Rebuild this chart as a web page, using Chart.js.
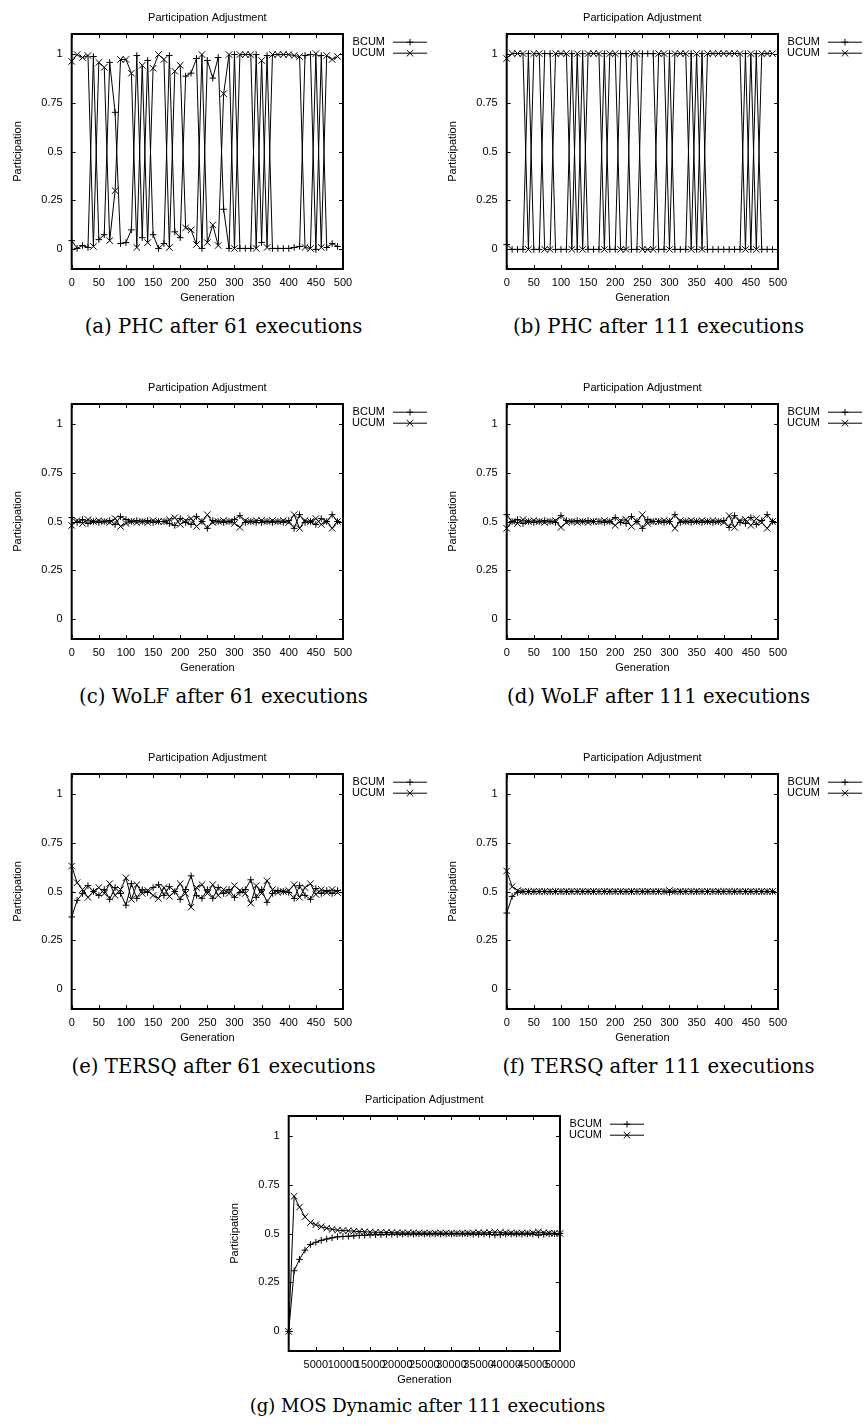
<!DOCTYPE html>
<html>
<head>
<meta charset="utf-8">
<script src="https://cdn.jsdelivr.net/npm/chart.js@4.4.1/dist/chart.umd.min.js"></script>
<style>
  body { margin: 0; background: #fff; }
  #page { position: relative; width: 867px; height: 1426px; overflow: hidden; background: #fff; }
  canvas { position: absolute; }
  .cap { position: absolute; width: 435px; text-align: center; font-family: "DejaVu Serif", serif;
         font-size: 19.7px; line-height: 24px; color: #000; white-space: nowrap; }
</style>
</head>
<body>
<div id="page">
  <canvas id="pa" width="435" height="310" style="left:0;top:0"></canvas>
  <canvas id="pb" width="435" height="310" style="left:435px;top:0"></canvas>
  <canvas id="pc" width="435" height="310" style="left:0;top:370px"></canvas>
  <canvas id="pd" width="435" height="310" style="left:435px;top:370px"></canvas>
  <canvas id="pe" width="435" height="310" style="left:0;top:740px"></canvas>
  <canvas id="pf" width="435" height="310" style="left:435px;top:740px"></canvas>
  <canvas id="pg" width="435" height="310" style="left:217px;top:1082px"></canvas>

  <div class="cap" style="left:6px;top:315px">(a) PHC after 61 executions</div>
  <div class="cap" style="left:441px;top:315px">(b) PHC after 111 executions</div>
  <div class="cap" style="left:6px;top:685px">(c) WoLF after 61 executions</div>
  <div class="cap" style="left:441px;top:685px">(d) WoLF after 111 executions</div>
  <div class="cap" style="left:6px;top:1055px">(e) TERSQ after 61 executions</div>
  <div class="cap" style="left:441px;top:1055px">(f) TERSQ after 111 executions</div>
  <div class="cap" style="left:210px;top:1394px;font-size:18px">(g) MOS Dynamic after 111 executions</div>
</div>

<script>
// x values (generation)
var gens = [0,10,20,30,40,50,60,70,80,90,100,110,120,130,140,150,160,170,180,190,
  200,210,220,230,240,250,260,270,280,290,300,310,320,330,340,350,360,370,380,390,
  400,410,420,430,440,450,460,470,480,490];
var genTicks = [0,50,100,150,200,250,300,350,400,450,500];

var mosGens = [0,1000,2000,3000,4000,5000,6000,7000,8000,9000,10000,11000,12000,13000,14000,
  15000,16000,17000,18000,19000,20000,21000,22000,23000,24000,25000,26000,27000,28000,29000,
  30000,31000,32000,33000,34000,35000,36000,37000,38000,39000,40000,41000,42000,43000,44000,
  45000,46000,47000,48000,49000,50000];
var mosTicks = [5000,10000,15000,20000,25000,30000,35000,40000,45000,50000];

var yTicks = [0, 0.25, 0.5, 0.75, 1];

// (a) PHC 61
var phc61B = [0.045,0.005,0.02,0.01,0.985,0.05,0.075,0.955,0.70,0.03,
  0.035,0.10,0.99,0.06,0.965,0.075,0.005,0.03,0.99,0.09,
  0.06,0.885,0.90,0.975,0.005,0.965,0.875,0.98,0.205,0.005,
  0.995,0.005,0.005,0.005,0.995,0.035,0.99,0.005,0.005,0.005,
  0.005,0.01,0.015,0.99,0.995,0.0,0.99,0.01,0.03,0.015];
var phc61U = [0.96,0.995,0.98,0.99,0.015,0.955,0.93,0.045,0.30,0.97,
  0.97,0.90,0.01,0.94,0.035,0.925,0.995,0.97,0.01,0.91,
  0.94,0.11,0.10,0.025,0.995,0.035,0.125,0.02,0.795,0.995,
  0.005,0.995,0.995,0.995,0.005,0.965,0.01,0.995,0.995,0.995,
  0.995,0.99,0.985,0.01,0.005,1.0,0.01,0.99,0.97,0.985];

// (b) PHC 111
var phc111B = [0.025,0,0,0,1,0,0,1,1,0,
  0,0,1,0,1,0,0,0,1,0,
  0,1,1,0,0,1,1,1,0,0,
  1,0,0,0,1,0,1,0,0,0,
  0,0,0,0,1,0,1,0,0,0];
var phc111U = [0.975,1,1,1,0,1,1,0,0,1,
  1,1,0,1,0,1,1,1,0,1,
  1,0,0,1,1,0,0,0,1,1,
  0,1,1,1,0,1,0,1,1,1,
  1,1,1,1,0,1,0,1,1,1];

// (c) WoLF 61
var wolf61B = [0.52,0.495,0.51,0.49,0.50,0.495,0.50,0.505,0.485,0.525,
  0.51,0.50,0.505,0.50,0.505,0.495,0.50,0.50,0.49,0.48,
  0.515,0.495,0.485,0.525,0.50,0.465,0.505,0.50,0.495,0.50,
  0.51,0.53,0.495,0.50,0.495,0.495,0.50,0.495,0.50,0.495,
  0.505,0.465,0.535,0.495,0.50,0.485,0.515,0.50,0.535,0.50];
var wolf61U = [0.48,0.505,0.49,0.51,0.50,0.505,0.50,0.495,0.515,0.475,
  0.49,0.50,0.495,0.50,0.495,0.505,0.50,0.50,0.51,0.52,
  0.485,0.505,0.515,0.475,0.50,0.535,0.495,0.50,0.505,0.50,
  0.49,0.47,0.505,0.50,0.505,0.505,0.50,0.505,0.50,0.505,
  0.495,0.535,0.465,0.505,0.50,0.515,0.485,0.50,0.465,0.50];

// (d) WoLF 111
var wolf111B = [0.535,0.50,0.51,0.49,0.50,0.495,0.50,0.505,0.50,0.495,
  0.53,0.505,0.50,0.505,0.50,0.505,0.50,0.50,0.495,0.50,
  0.52,0.495,0.49,0.525,0.50,0.465,0.51,0.50,0.50,0.495,
  0.50,0.535,0.495,0.50,0.495,0.50,0.495,0.50,0.495,0.50,
  0.505,0.47,0.53,0.495,0.49,0.52,0.485,0.505,0.535,0.50];
var wolf111U = [0.465,0.50,0.49,0.51,0.50,0.505,0.50,0.495,0.50,0.505,
  0.47,0.495,0.50,0.495,0.50,0.495,0.50,0.50,0.505,0.50,
  0.48,0.505,0.51,0.475,0.50,0.535,0.49,0.50,0.50,0.505,
  0.50,0.465,0.505,0.50,0.505,0.50,0.505,0.50,0.505,0.50,
  0.495,0.53,0.47,0.505,0.51,0.48,0.515,0.495,0.465,0.50];

// (e) TERSQ 61
var tersq61B = [0.37,0.455,0.49,0.53,0.50,0.48,0.51,0.46,0.52,0.49,
  0.43,0.54,0.465,0.51,0.495,0.52,0.535,0.48,0.525,0.50,
  0.46,0.51,0.58,0.48,0.465,0.51,0.465,0.52,0.49,0.51,
  0.47,0.495,0.51,0.56,0.47,0.51,0.445,0.49,0.505,0.50,
  0.495,0.465,0.53,0.48,0.46,0.515,0.49,0.505,0.49,0.505];
var tersq61U = [0.63,0.545,0.51,0.47,0.50,0.52,0.49,0.54,0.48,0.51,
  0.57,0.46,0.535,0.49,0.505,0.48,0.465,0.52,0.475,0.50,
  0.54,0.49,0.42,0.52,0.535,0.49,0.535,0.48,0.51,0.49,
  0.53,0.505,0.49,0.44,0.53,0.49,0.555,0.51,0.495,0.50,
  0.505,0.535,0.47,0.52,0.54,0.485,0.51,0.495,0.51,0.495];

// (f) TERSQ 111
var tersq111B = [0.39,0.475,0.495,0.499,0.50,0.499,0.50,0.50,0.499,0.50,
  0.50,0.499,0.50,0.50,0.50,0.499,0.50,0.50,0.50,0.499,
  0.50,0.50,0.499,0.50,0.50,0.50,0.499,0.50,0.50,0.50,
  0.495,0.50,0.499,0.50,0.50,0.499,0.50,0.50,0.50,0.499,
  0.50,0.50,0.499,0.50,0.50,0.499,0.50,0.50,0.499,0.50];
var tersq111U = [0.605,0.525,0.505,0.501,0.50,0.501,0.50,0.50,0.501,0.50,
  0.50,0.501,0.50,0.50,0.50,0.501,0.50,0.50,0.50,0.501,
  0.50,0.50,0.501,0.50,0.50,0.50,0.501,0.50,0.50,0.50,
  0.505,0.50,0.501,0.50,0.50,0.501,0.50,0.50,0.50,0.501,
  0.50,0.50,0.501,0.50,0.50,0.501,0.50,0.50,0.501,0.50];

// (g) MOS Dynamic 111
var mosB = [0,0.31,0.368,0.415,0.444,0.455,0.465,0.472,0.478,0.483,
  0.485,0.486,0.488,0.49,0.491,0.493,0.494,0.494,0.495,0.496,
  0.496,0.497,0.497,0.497,0.498,0.497,0.498,0.498,0.497,0.498,
  0.498,0.499,0.498,0.498,0.497,0.496,0.497,0.495,0.493,0.494,
  0.497,0.497,0.498,0.497,0.498,0.497,0.492,0.496,0.498,0.499,0.5];
var mosU = [0,0.69,0.635,0.585,0.556,0.545,0.535,0.527,0.521,0.517,
  0.515,0.514,0.512,0.51,0.509,0.507,0.506,0.506,0.505,0.504,
  0.504,0.503,0.503,0.503,0.502,0.503,0.502,0.502,0.503,0.502,
  0.502,0.501,0.502,0.502,0.503,0.504,0.503,0.505,0.507,0.506,
  0.503,0.503,0.502,0.503,0.502,0.503,0.508,0.504,0.502,0.501,0.5];

var plotTitle = 'Participation Adjustment';
var seriesNames = ['BCUM', 'UCUM'];

Chart.defaults.font.family = '"Liberation Sans", Arial, sans-serif';
Chart.defaults.font.size = 11;
Chart.defaults.color = '#000';

function mark(ctx, style, x, y, r) {
  ctx.beginPath();
  if (style === 'cross') {
    ctx.moveTo(x - r, y); ctx.lineTo(x + r, y);
    ctx.moveTo(x, y - r); ctx.lineTo(x, y + r);
  } else {
    var d = r * Math.cos(Math.PI / 4);
    ctx.moveTo(x - d, y - d); ctx.lineTo(x + d, y + d);
    ctx.moveTo(x - d, y + d); ctx.lineTo(x + d, y - d);
  }
  ctx.stroke();
}

// gnuplot look: frame, inward ticks, title, key
var gnuplotLook = {
  id: 'gnuplotLook',
  afterDatasetsDraw: function(chart) {
    var ctx = chart.ctx, a = chart.chartArea, sx = chart.scales.x, sy = chart.scales.y;
    ctx.save();
    ctx.strokeStyle = '#000';
    ctx.lineWidth = 1;
    sx.ticks.forEach(function(t) {
      var px = Math.round(sx.getPixelForValue(t.value)) + 0.5;
      ctx.beginPath();
      ctx.moveTo(px, a.bottom); ctx.lineTo(px, a.bottom - 4);
      ctx.moveTo(px, a.top); ctx.lineTo(px, a.top + 4);
      ctx.stroke();
    });
    sy.ticks.forEach(function(t) {
      var py = Math.round(sy.getPixelForValue(t.value)) + 0.5;
      ctx.beginPath();
      ctx.moveTo(a.left, py); ctx.lineTo(a.left + 4, py);
      ctx.moveTo(a.right, py); ctx.lineTo(a.right - 4, py);
      ctx.stroke();
    });
    ctx.lineWidth = 2;
    ctx.strokeRect(a.left, a.top, a.right - a.left, a.bottom - a.top);

    ctx.fillStyle = '#000';
    ctx.font = '11px "Liberation Sans", Arial, sans-serif';
    ctx.textAlign = 'center';
    ctx.textBaseline = 'middle';
    ctx.fillText(plotTitle, (a.left + a.right) / 2, a.top - 16.4);

    // key
    ctx.textAlign = 'right';
    ctx.lineWidth = 1;
    chart.data.datasets.forEach(function(ds, i) {
      var y = a.top + 7.7 + i * 11;
      ctx.fillText(ds.label, a.right + 42, y);
      ctx.beginPath();
      ctx.moveTo(a.right + 50, y + 0.5); ctx.lineTo(a.right + 84, y + 0.5);
      ctx.stroke();
      mark(ctx, ds.pointStyle, a.right + 67, y + 0.5, ds.pointRadius);
    });
    ctx.restore();
  }
};

function panel(id, xs, bcum, ucum, xMax, xTicks) {
  function pts(vals) {
    return xs.map(function(x, i) { return { x: x, y: vals[i] }; });
  }
  var common = {
    borderColor: '#000', borderWidth: 1, pointBorderColor: '#000', pointBorderWidth: 1,
    pointBackgroundColor: '#000', fill: false, tension: 0, clip: false
  };
  new Chart(document.getElementById(id), {
    type: 'line',
    data: {
      datasets: [
        Object.assign({ label: seriesNames[0], data: pts(bcum), pointStyle: 'cross', pointRadius: 3.3 }, common),
        Object.assign({ label: seriesNames[1], data: pts(ucum), pointStyle: 'crossRot', pointRadius: 4.6 }, common)
      ]
    },
    options: {
      responsive: false,
      animation: false,
      devicePixelRatio: 1,
      layout: { padding: { left: 0, right: 92, top: 34, bottom: 0 } },
      plugins: { legend: { display: false }, tooltip: { enabled: false }, title: { display: false } },
      scales: {
        x: {
          type: 'linear', min: 0, max: xMax,
          grid: { display: false, drawTicks: false }, border: { display: false },
          afterBuildTicks: function(s) { s.ticks = xTicks.map(function(v) { return { value: v }; }); },
          afterFit: function(s) { s.height = 41; },
          ticks: { autoSkip: false, maxRotation: 0, minRotation: 0, padding: 7,
                   callback: function(v) { return String(v); } },
          title: { display: true, text: 'Generation', padding: { top: 0, bottom: 5.4 } }
        },
        y: {
          min: -0.1, max: 1.1,
          grid: { display: false, drawTicks: false }, border: { display: false },
          afterBuildTicks: function(s) { s.ticks = yTicks.map(function(v) { return { value: v }; }); },
          afterFit: function(s) { s.width = 71.7; },
          ticks: { padding: 9, callback: function(v) { return String(v); } },
          title: { display: true, text: 'Participation', padding: { top: 11.4, bottom: 0 } }
        }
      }
    },
    plugins: [gnuplotLook]
  });
}

panel('pa', gens, phc61B, phc61U, 500, genTicks);
panel('pb', gens, phc111B, phc111U, 500, genTicks);
panel('pc', gens, wolf61B, wolf61U, 500, genTicks);
panel('pd', gens, wolf111B, wolf111U, 500, genTicks);
panel('pe', gens, tersq61B, tersq61U, 500, genTicks);
panel('pf', gens, tersq111B, tersq111U, 500, genTicks);
panel('pg', mosGens, mosB, mosU, 50000, mosTicks);
</script>
</body>
</html>
